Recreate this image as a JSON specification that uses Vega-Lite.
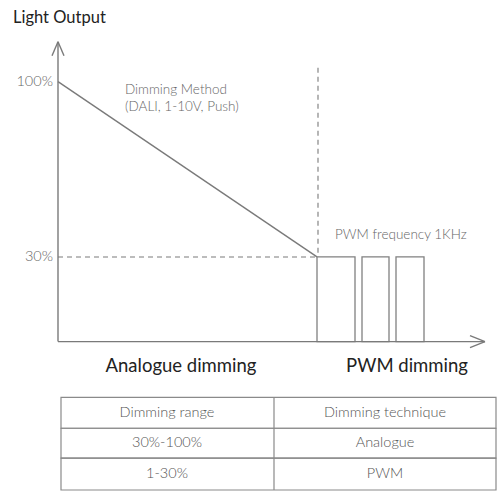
{
  "$schema": "https://vega.github.io/schema/vega-lite/v6.json",
  "width": 500,
  "height": 491,
  "autosize": {"type": "fit", "contains": "padding"},
  "padding": 0,
  "background": "white",
  "config": {"view": {"stroke": null}, "font": "Lato"},
  "datasets": {
    "solid": [
      {"x": 58, "y": 42, "x2": 58, "y2": 343},
      {"x": 58, "y": 343, "x2": 485, "y2": 343},
      {"x": 58, "y": 42, "x2": 52, "y2": 56},
      {"x": 58, "y": 42, "x2": 64, "y2": 56},
      {"x": 485, "y": 343, "x2": 470, "y2": 337},
      {"x": 485, "y": 343, "x2": 470, "y2": 349},
      {"x": 58, "y": 82, "x2": 317, "y2": 258}
    ],
    "dashed": [
      {"x": 58, "y": 258, "x2": 317, "y2": 258},
      {"x": 318, "y": 68, "x2": 318, "y2": 258}
    ],
    "pulses": [
      {"x": 317, "x2": 355, "y": 258, "y2": 343},
      {"x": 362, "x2": 389, "y": 258, "y2": 343},
      {"x": 396, "x2": 424, "y": 258, "y2": 343}
    ],
    "table": [
      {"x": 61, "x2": 496, "y": 399, "y2": 430},
      {"x": 61, "x2": 496, "y": 430, "y2": 460},
      {"x": 61, "x2": 496, "y": 460, "y2": 492},
      {"x": 274, "x2": 274, "y": 399, "y2": 492}
    ],
    "ticks": [
      {"x": 53, "y": 82, "t": "100%"},
      {"x": 53, "y": 258, "t": "30%"}
    ],
    "notes": [
      {"x": 125, "y": 90.5, "t": ["Dimming Method", "(DALI, 1-10V, Push)"]},
      {"x": 335, "y": 236, "t": ["PWM frequency 1KHz"]}
    ],
    "regions": [
      {"x": 181, "y": 367, "t": "Analogue dimming"},
      {"x": 407, "y": 367, "t": "PWM dimming"}
    ],
    "cells": [
      {"x": 167, "y": 415, "t": "Dimming range"},
      {"x": 385, "y": 415, "t": "Dimming technique"},
      {"x": 167, "y": 445, "t": "30%-100%"},
      {"x": 385, "y": 445, "t": "Analogue"},
      {"x": 167, "y": 476, "t": "1-30%"},
      {"x": 385, "y": 476, "t": "PWM"}
    ],
    "title": [
      {"x": 13, "y": 18, "t": "Light Output"}
    ]
  },
  "encoding": {
    "x": {"field": "x", "type": "quantitative", "scale": {"domain": [0, 500], "nice": false, "zero": false}, "axis": null},
    "y": {"field": "y", "type": "quantitative", "scale": {"domain": [0, 491], "nice": false, "zero": false, "reverse": true}, "axis": null}
  },
  "layer": [
    {
      "data": {"name": "table"},
      "mark": {"type": "rect", "fill": null, "stroke": "#8a8a8a", "strokeWidth": 1.2},
      "encoding": {"x2": {"field": "x2"}, "y2": {"field": "y2"}}
    },
    {
      "data": {"name": "pulses"},
      "mark": {"type": "rect", "fill": null, "stroke": "#808080", "strokeWidth": 1.3},
      "encoding": {"x2": {"field": "x2"}, "y2": {"field": "y2"}}
    },
    {
      "data": {"name": "solid"},
      "mark": {"type": "rule", "stroke": "#7a7a7a", "strokeWidth": 1.4},
      "encoding": {"x2": {"field": "x2"}, "y2": {"field": "y2"}}
    },
    {
      "data": {"name": "dashed"},
      "mark": {"type": "rule", "stroke": "#7a7a7a", "strokeWidth": 1.1, "strokeDash": [5, 4]},
      "encoding": {"x2": {"field": "x2"}, "y2": {"field": "y2"}}
    },
    {
      "data": {"name": "ticks"},
      "mark": {"type": "text", "align": "right", "baseline": "middle", "fontSize": 14.5, "fontWeight": 300, "fill": "#666666"},
      "encoding": {"text": {"field": "t"}}
    },
    {
      "data": {"name": "notes"},
      "mark": {"type": "text", "align": "left", "baseline": "middle", "fontSize": 13.5, "fontWeight": 300, "lineHeight": 16.5, "fill": "#666666"},
      "encoding": {"text": {"field": "t"}}
    },
    {
      "data": {"name": "regions"},
      "mark": {"type": "text", "align": "center", "baseline": "middle", "fontSize": 18.5, "fill": "#222222"},
      "encoding": {"text": {"field": "t"}}
    },
    {
      "data": {"name": "cells"},
      "mark": {"type": "text", "align": "center", "baseline": "middle", "fontSize": 14.5, "fontWeight": 300, "fill": "#555555"},
      "encoding": {"text": {"field": "t"}}
    },
    {
      "data": {"name": "title"},
      "mark": {"type": "text", "align": "left", "baseline": "middle", "fontSize": 16.5, "fill": "#222222"},
      "encoding": {"text": {"field": "t"}}
    }
  ]
}
